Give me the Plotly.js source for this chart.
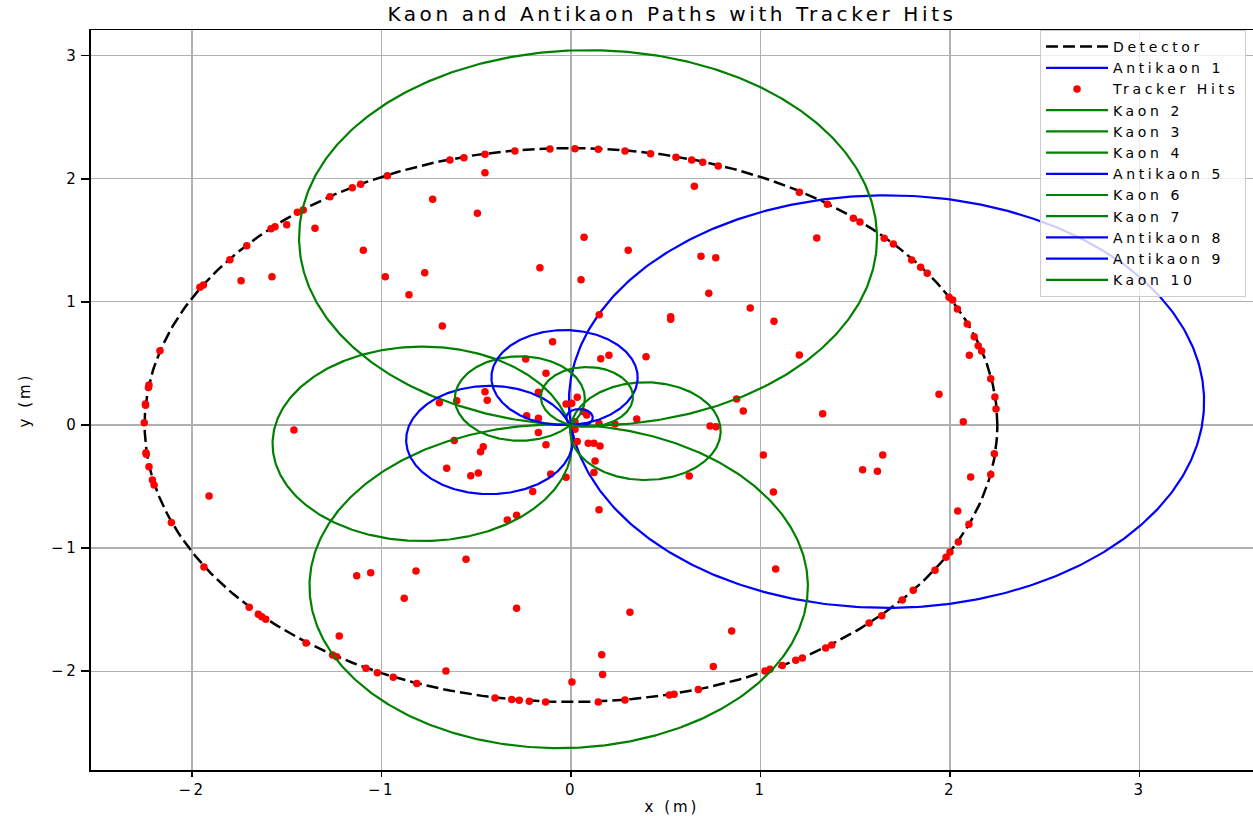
<!DOCTYPE html>
<html><head><meta charset="utf-8">
<script src="https://cdn.plot.ly/plotly-3.0.1.min.js"></script>
<style>
html,body{margin:0;padding:0;background:#fff;}
.legendtext{letter-spacing:3.6px;}
.gtitle{letter-spacing:3.6px;}
.xtick text,.ytick text{letter-spacing:2.5px;}
.xtitle,.ytitle{letter-spacing:3px;}
</style></head><body>
<div id="chart" style="width:1253px;height:816px;"></div>
<script>
// ---- data ----
const detectorRadius = 2.25;
const trackNames   = ["Antikaon 1","Kaon 2","Kaon 3","Kaon 4","Antikaon 5","Kaon 6","Kaon 7","Antikaon 8","Antikaon 9","Kaon 10"];
const trackCharge  = [-1, 1, 1, 1, -1, 1, 1, -1, -1, 1];
const trackCenterX = [1.665, 0.09, -0.065, -0.785, -0.43, 0.393, -0.27, -0.034, 0.045, 0.084];
const trackCenterY = [0.19, 1.52, -1.31, -0.153, -0.122, -0.05, 0.215, 0.385, 0.06, 0.228];
const trackRadius  = [1.676, 1.525, 1.315, 0.79, 0.44, 0.397, 0.343, 0.386, 0.07, 0.243];
const hitX = [-0.454,-0.565,-0.639,-0.454,-0.969,-1.11,-1.154,-1.272,-0.73,-0.494,-1.413,-1.444,-1.351,-1.5,-1.562,-1.583,-1.096,-1.711,-1.8,-1.578,-1.741,-0.98,-0.772,-1.94,-1.958,
 -0.296,-0.111,0.021,0.144,0.285,0.42,0.554,0.637,0.695,0.777,0.651,1.205,1.353,1.49,1.525,1.653,1.297,0.069,0.302,0.686,0.764,-0.164,0.053,
 1.701,1.798,1.845,1.88,
 -0.855,-0.679,-2.169,-2.227,-2.23,-2.246,-2.245,-2.252,-2.243,-2.241,-2.227,-2.209,-2.2,-1.462,-1.91,-2.109,
 -0.454,-0.442,-0.603,-0.695,-0.616,-0.463,-0.477,-0.656,-0.529,-0.489,
 0.727,0.946,0.526,0.526,1.071,0.149,-0.097,-0.239,0.157,0.2,0.396,1.205,-0.132,-0.172,0.033,-0.026,0.004,0.065,0.083,-0.234,-0.172,0.347,0.148,0.232,0.021,0.021,-0.172,0.734,0.765,1.328,0.909,0.874,0.033,0.091,0.121,0.153,-0.132,0.127,0.121,-0.107,-0.026,0.624,1.015,1.645,1.539,1.617,1.068,-0.202,0.148,-0.287,-0.336,
 1.995,2.014,2.039,2.091,2.128,2.149,2.167,2.102,2.215,1.942,2.237,2.243,2.07,2.234,2.215,2.109,2.041,2.1,
 -1.937,-1.698,-1.65,-1.632,-1.611,-1.398,-1.223,-1.258,-1.237,-1.131,-1.057,-0.818,-0.554,-0.88,-1.082,-1.022,-0.938,-0.814,-0.66,-0.401,
 -0.313,-0.273,-0.22,-0.134,0.144,0.285,0.519,0.544,0.672,1.024,1.05,1.115,1.186,1.221,1.344,1.376,1.573,1.64,-0.287,0.311,0.848,1.08,0.162,0.751,0.167,0.005,
 1.748,1.806,1.921,1.979,2.0,2.044];
const hitY = [2.199,2.172,2.153,2.05,2.025,1.955,1.928,1.855,1.833,1.72,1.747,1.728,1.598,1.627,1.611,1.595,1.419,1.457,1.343,1.205,1.172,1.205,1.237,1.137,1.119,
 2.226,2.242,2.245,2.24,2.226,2.204,2.175,2.153,2.134,2.104,1.939,1.89,1.793,1.679,1.649,1.517,1.519,1.525,1.419,1.37,1.359,1.278,1.18,
 1.47,1.34,1.281,1.232,
 1.059,0.804,0.604,0.325,0.305,0.171,0.16,0.019,-0.225,-0.237,-0.339,-0.447,-0.487,-0.041,-0.577,-0.793,
 0.271,0.2,0.197,0.181,-0.127,-0.176,-0.217,-0.352,-0.412,-0.39,
 1.07,0.95,0.88,0.859,0.842,0.896,0.677,0.536,0.539,0.566,0.555,0.569,0.42,0.265,0.225,0.171,0.176,0.108,0.081,0.076,0.054,0.049,0.013,0.008,0.027,-0.035,-0.062,-0.008,-0.014,0.092,0.114,0.211,-0.135,-0.149,-0.149,-0.171,-0.16,-0.292,-0.385,-0.398,-0.425,-0.414,-0.244,-0.244,-0.363,-0.376,-0.544,-0.541,-0.688,-0.734,-0.772,
 1.037,1.015,0.942,0.82,0.717,0.644,0.601,0.566,0.376,0.249,0.227,0.13,0.027,-0.233,-0.403,-0.422,-0.699,-0.807,
 -1.153,-1.481,-1.538,-1.557,-1.578,-1.771,-1.714,-1.868,-1.882,-1.224,-1.2,-1.186,-1.091,-1.408,-1.977,-2.012,-2.05,-2.101,-1.998,-2.218,
 -2.231,-2.236,-2.245,-2.25,-2.25,-2.234,-2.193,-2.188,-2.15,-1.998,-1.985,-1.955,-1.912,-1.893,-1.812,-1.787,-1.608,-1.549,-1.489,-1.522,-1.673,-1.17,-1.866,-1.963,-2.028,-2.088,
 -1.422,-1.343,-1.18,-1.075,-1.032,-0.95];
const xTickVals = [-2,-1,0,1,2,3];
const yTickVals = [-2,-1,0,1,2,3];

// ---- build traces ----
const N = 480;
function circlePts(cx, cy, r, startAtOrigin, dir){
  const xs=[], ys=[];
  const t0 = startAtOrigin ? Math.atan2(-cy, -cx) : 0;
  for(let k=0;k<=N;k++){
    const t = t0 + dir*2*Math.PI*k/N;
    xs.push(cx + r*Math.cos(t)); ys.push(cy + r*Math.sin(t));
  }
  return [xs, ys];
}
const FONT = 'DejaVu Sans, sans-serif';
const traces = [];
const det = circlePts(0, 0, detectorRadius, false, 1);
traces.push({x:det[0], y:det[1], type:'scatter', mode:'lines', name:'Detector',
  line:{color:'#000000', width:2.5, dash:'12px,5px'}, hoverinfo:'skip'});
function trackTrace(i){
  const p = circlePts(trackCenterX[i], trackCenterY[i], trackRadius[i], true, trackCharge[i]);
  return {x:p[0], y:p[1], type:'scatter', mode:'lines', name:trackNames[i],
    line:{color: trackCharge[i] < 0 ? '#0000ff' : '#008000', width:2.2}};
}
traces.push(trackTrace(0));
traces.push({x:hitX, y:hitY, type:'scatter', mode:'markers', name:'Tracker Hits',
  marker:{color:'#ff0000', size:7.5}});
for(let i=1;i<trackNames.length;i++) traces.push(trackTrace(i));

const layout = {
  width:1253, height:816,
  margin:{l:91, r:0, t:30, b:46},
  paper_bgcolor:'#ffffff', plot_bgcolor:'#ffffff',
  showlegend:true,
  title:{text:'Kaon and Antikaon Paths with Tracker Hits', font:{family:FONT, size:20, color:'#000'},
    x:0.5, xref:'paper', xanchor:'center', y:0.983, yref:'container', yanchor:'middle'},
  xaxis:{range:[-2.533, 3.599], tickvals:xTickVals, showgrid:true, gridcolor:'#b0b0b0', gridwidth:1.5,
    zeroline:false, showline:true, linecolor:'#000', linewidth:1.5, mirror:true,
    ticks:'outside', ticklen:5, tickwidth:1.5, tickcolor:'#000',
    tickfont:{family:FONT, size:15, color:'#000'},
    title:{text:'x (m)', font:{family:FONT, size:15, color:'#000'}, standoff:4}, automargin:false},
  yaxis:{range:[-2.803, 3.209], tickvals:yTickVals, showgrid:true, gridcolor:'#b0b0b0', gridwidth:1.2,
    zeroline:false, showline:true, linecolor:'#000', linewidth:1.8,
    ticks:'outside', ticklen:8, tickwidth:1.5, tickcolor:'#000',
    tickfont:{family:FONT, size:15, color:'#000'},
    title:{text:'y (m)', font:{family:FONT, size:15, color:'#000'}, standoff:17}, automargin:false},
  legend:{x:0.994, xanchor:'right', y:1.0, yanchor:'top', bgcolor:'rgba(255,255,255,0.8)',
    bordercolor:'#cccccc', borderwidth:1, font:{family:FONT, size:14, color:'#000'}, itemwidth:62, tracegroupgap:0},
  hovermode:false
};
Plotly.newPlot('chart', traces, layout, {displayModeBar:false, staticPlot:true});
</script></body></html>
